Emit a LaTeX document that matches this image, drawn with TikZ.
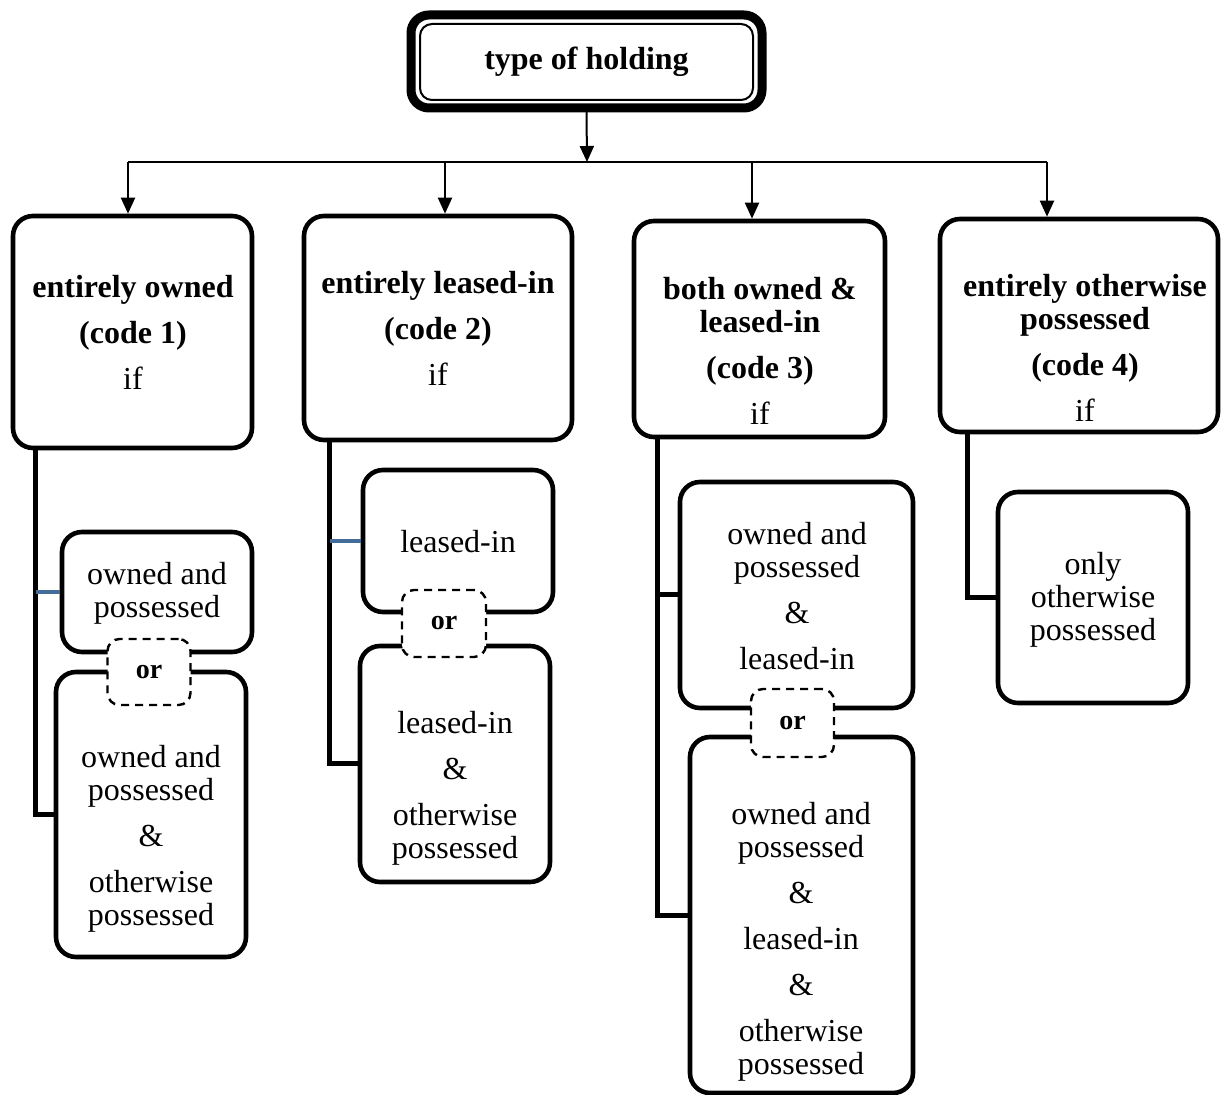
\documentclass[tikz,border=0pt]{standalone}
\usepackage{fontspec}
\setmainfont{Liberation Serif}
\usepackage{xcolor}
\usepackage{tikz}
\usetikzlibrary{arrows.meta}
\definecolor{stubblue}{RGB}{68,108,152}

\begin{document}
\begin{tikzpicture}[x=0.5pt, y=-0.5pt,
            every node/.style={font=\fontsize{16}{16.5}\selectfont, align=center},
            holdbox/.style={draw, line width=2.3pt, rounded corners=10pt, fill=white, inner sep=0pt},
            orbox/.style={draw, dash pattern=on 4pt off 3pt, line width=1.2pt, rounded corners=6pt,
                fill=white, inner sep=0pt, minimum width=41.5pt, minimum height=33pt,
                font=\fontsize{14}{15}\selectfont\bfseries},
            bracket/.style={line width=2.5pt},
            stub/.style={line width=1.6pt, draw=stubblue},
            arr/.style={line width=1pt, -{Triangle[length=8pt,width=7pt]}}]
            \useasboundingbox (0,0) rectangle (1221,1095);

            % top box
            \node[draw, line width=1pt, rounded corners=6pt, minimum width=166.5pt, minimum height=38pt,
                inner sep=0pt, font=\fontsize{16}{16.5}\selectfont\bfseries] (top) at (586.5,62) {type of holding};
            \draw[line width=4.5pt, rounded corners=9pt] ([shift={(-4pt,4pt)}]top.north west) rectangle ([shift={(4pt,-3.5pt)}]top.south east);

            % the four codes
            \node[holdbox, minimum width=119.5pt, minimum height=116pt] (b1) at (132.5,332) {};
            \node at (133,332) (t1) {\textbf{entirely owned}\\[6.5pt]\textbf{(code 1)}\\[6.5pt]if};
            \node[holdbox, minimum width=134pt, minimum height=112pt] (b2) at (438,328) {};
            \node at (438,328) (t2) {\textbf{entirely leased-in}\\[6.5pt]\textbf{(code 2)}\\[6.5pt]if};
            \node[holdbox, minimum width=125.5pt, minimum height=108pt] (b3) at (759.5,329) {};
            \node at (760,351) (t3) {\textbf{both owned \&}\\\textbf{leased-in}\\[6.5pt]\textbf{(code 3)}\\[6.5pt]if};
            \node[holdbox, minimum width=139pt, minimum height=106.5pt] (b4) at (1079,325.5) {};
            \node at (1085,348) (t4) {\textbf{entirely otherwise}\\\textbf{possessed}\\[6.5pt]\textbf{(code 4)}\\[6.5pt]if};

            % connectors from the top
            \coordinate (h0) at (587,162);
            \coordinate (h1) at (128,162);
            \coordinate (h2) at (445,162);
            \coordinate (h3) at (752,162);
            \coordinate (h4) at (1047,162);
            \draw[arr] ([yshift=-5.5pt]top.south) -- (h0);
            \draw[line width=1pt] (h1) -- (h4);
            \draw[arr] (h1) -- (h1 |- b1.north);
            \draw[arr] (h2) -- (h2 |- b2.north);
            \draw[arr] (h3) -- (h3 |- b3.north);
            \draw[arr] (h4) -- (h4 |- b4.north);

            % code 1
            \node[holdbox, minimum width=95pt, minimum height=60pt] (b1a) at (157,592) {};
            \node at (157,593) (t1a) {owned and\\possessed};
            \node[holdbox, minimum width=95pt, minimum height=142.5pt] (b1b) at (151,814.5) {};
            \node at (151,839) (t1b) {owned and\\possessed\\[6.5pt]\&\\[6.5pt]otherwise\\possessed};
            \coordinate (s1) at ([xshift=12.5pt]b1.south west);
            \draw[bracket] (s1) |- (b1b.west);
            \draw[stub] (s1 |- b1a.west) -- (b1a.west);
            \node[orbox] (or1) at (149,672) {or};

            % code 2
            \node[holdbox, minimum width=95pt, minimum height=71pt] (b2a) at (458,541) {};
            \node at (458,542) (t2a) {leased-in};
            \node[holdbox, minimum width=95pt, minimum height=118pt] (b2b) at (455,764) {};
            \node at (455,788) (t2b) {leased-in\\[6.5pt]\&\\[6.5pt]otherwise\\possessed};
            \coordinate (s2) at ([xshift=14pt]b2.south west);
            \draw[bracket] (s2) |- (b2b.west);
            \draw[stub] (s2 |- b2a.west) -- (b2a.west);
            \node[orbox, minimum width=42pt, minimum height=33.5pt] (or2) at (444,623.5) {or};

            % code 3
            \node[holdbox, minimum width=116.5pt, minimum height=113pt] (b3a) at (796.5,595) {};
            \node at (797,596) (t3a) {owned and\\possessed\\[6.5pt]\&\\[6.5pt]leased-in};
            \node[holdbox, minimum width=111.5pt, minimum height=178pt] (b3b) at (801.5,915) {};
            \node at (801,942) (t3b) {owned and\\possessed\\[6.5pt]\&\\[6.5pt]leased-in\\[6.5pt]\&\\[6.5pt]otherwise\\possessed};
            \coordinate (s3) at ([xshift=13pt]b3.south west);
            \draw[bracket] (s3) |- (b3b.west);
            \draw[bracket] (s3 |- b3a.west) -- (b3a.west);
            \node[orbox, minimum height=34pt] (or3) at (792.5,723) {or};

            % code 4
            \node[holdbox, minimum width=95pt, minimum height=105.5pt] (b4a) at (1093,597.5) {};
            \node at (1093,600) (t4a) {only\\otherwise\\possessed};
            \coordinate (s4) at ([xshift=15pt]b4.south west);
            \draw[bracket] (s4) |- (b4a.west);
        \end{tikzpicture}
\end{document}
